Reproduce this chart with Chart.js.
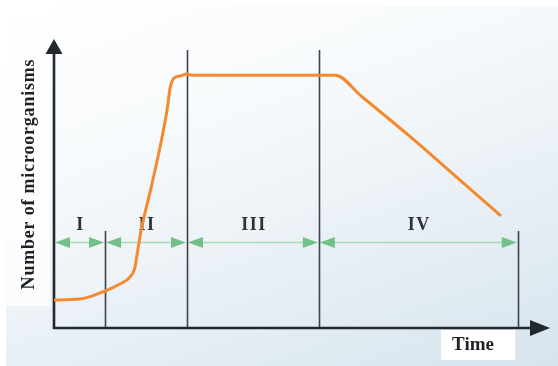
<!DOCTYPE html>
<html>
<head>
<meta charset="utf-8">
<script src="https://cdn.jsdelivr.net/npm/chart.js@4.4.1/dist/chart.umd.min.js"></script>
<style>
  html, body { margin: 0; padding: 0; background: #fff; }
  #wrap {
    position: relative; width: 558px; height: 366px;
  }
  #bg {
    position: absolute; left: 6px; top: 6px; right: 0; bottom: 0;
    background: linear-gradient(160deg, #ffffff 0%, #f6f9fb 35%, #e6eef4 70%, #d6e4ee 100%);
  }
  #labelbg {
    position: absolute; left: 6px; top: 6px; width: 44px; height: 300px;
    background: linear-gradient(180deg, #ffffff 0%, #fbfcfd 100%);
  }
  canvas { position: absolute; left: 0; top: 0; }
</style>
</head>
<body>
<div id="wrap">
  <div id="bg"></div>
  <div id="labelbg"></div>
  <canvas id="growth" width="558" height="366"></canvas>
</div>
<script>
// growth curve (time, number) in arbitrary units
const timeVals = [0, 5.2, 10.3, 13.3, 15.3, 16.3, 16.9, 17.5, 19.8, 22.8, 23.4, 24.2, 25.4, 26.8, 27.8, 56.7, 61.9, 71.4, 82.5, 90.1];
const countVals = [9.7, 10.0, 12.8, 15.2, 17.6, 20.8, 27.0, 33.2, 50.2, 75.4, 83.0, 86.5, 87.2, 87.9, 87.5, 87.5, 80.3, 66.8, 50.2, 38.8];

// phase boundaries on the time axis
const phaseEdges = [0, 10.3, 26.8, 53.4, 93.5];
const phaseNames = ['I', 'II', 'III', 'IV'];
const edgeTops = [100, 33.6, 96.2, 96.2, 33.6];
const arrowLevel = 29.8;
const labelLevel = 35.6;

const xTitle = 'Time';
const yTitle = 'Number of microorganisms';

const points = timeVals.map((t, i) => ({x: t, y: countVals[i]}));

const serif = '"Liberation Serif", "DejaVu Serif", serif';

function arrowHead(ctx, x, y, dir, len, half, color) {
  ctx.fillStyle = color;
  ctx.beginPath();
  if (dir === 'right') {
    ctx.moveTo(x, y); ctx.lineTo(x - len, y - half); ctx.lineTo(x - len, y + half);
  } else if (dir === 'left') {
    ctx.moveTo(x, y); ctx.lineTo(x + len, y - half); ctx.lineTo(x + len, y + half);
  } else {
    ctx.moveTo(x, y); ctx.lineTo(x - half, y + len); ctx.lineTo(x + half, y + len);
  }
  ctx.closePath();
  ctx.fill();
}

const diagram = {
  id: 'diagram',
  beforeDatasetsDraw(chart) {
    const {ctx, scales: {x, y}} = chart;
    ctx.save();
    const x0 = x.getPixelForValue(0), y0 = y.getPixelForValue(0);

    // phase lines
    ctx.strokeStyle = '#3d424c';
    ctx.lineWidth = 1.6;
    for (let i = 1; i < phaseEdges.length; i++) {
      const px = Math.round(x.getPixelForValue(phaseEdges[i])) + 0.5;
      ctx.beginPath();
      ctx.moveTo(px, y.getPixelForValue(edgeTops[i]));
      ctx.lineTo(px, y0);
      ctx.stroke();
    }

    // green double arrows
    const ay = Math.round(y.getPixelForValue(arrowLevel)) + 0.5;
    for (let i = 0; i < phaseNames.length; i++) {
      const a = x.getPixelForValue(phaseEdges[i]) + 1;
      const b = x.getPixelForValue(phaseEdges[i + 1]) - 1;
      ctx.strokeStyle = '#a9d9b6';
      ctx.lineWidth = 1.5;
      ctx.beginPath();
      ctx.moveTo(a + 8, ay); ctx.lineTo(b - 8, ay);
      ctx.stroke();
      arrowHead(ctx, a, ay, 'left', 15, 5.5, '#74c08a');
      arrowHead(ctx, b, ay, 'right', 15, 5.5, '#74c08a');
    }

    // phase names
    ctx.fillStyle = '#2f3238';
    ctx.font = 'bold 18px ' + serif;
    ctx.letterSpacing = '1.5px';
    ctx.textAlign = 'center';
    ctx.textBaseline = 'middle';
    for (let i = 0; i < phaseNames.length; i++) {
      const mid = (phaseEdges[i] + phaseEdges[i + 1]) / 2;
      ctx.fillText(phaseNames[i], x.getPixelForValue(mid) + 1, y.getPixelForValue(labelLevel));
    }

    // axes
    ctx.strokeStyle = '#23272e';
    ctx.lineWidth = 2.6;
    ctx.beginPath();
    ctx.moveTo(x0, y.getPixelForValue(95));
    ctx.lineTo(x0, y0);
    ctx.lineTo(x.getPixelForValue(96), y0);
    ctx.stroke();
    arrowHead(ctx, x0, y.getPixelForValue(100), 'up', 15, 8.5, '#23272e');
    arrowHead(ctx, x.getPixelForValue(100), y0, 'right', 20, 8, '#23272e');

    // Time box
    ctx.fillStyle = '#ffffff';
    ctx.fillRect(441, 330, 74, 30);
    ctx.fillStyle = '#1e2126';
    ctx.letterSpacing = '0px';
    ctx.font = 'bold 19px ' + serif;
    ctx.fillText(xTitle, 473, 345);

    // y title
    ctx.translate(29, 174);
    ctx.rotate(-Math.PI / 2);
    ctx.font = 'bold 18px ' + serif;
    ctx.letterSpacing = '0.8px';
    ctx.fillText(yTitle, 0, 0);
    ctx.restore();
  }
};

new Chart(document.getElementById('growth'), {
  type: 'line',
  data: {
    datasets: [{
      data: points,
      borderColor: '#f5892f',
      borderWidth: 3,
      pointRadius: 0,
      cubicInterpolationMode: 'monotone',
      fill: false
    }]
  },
  options: {
    responsive: false,
    animation: false,
    layout: { padding: { left: 54, right: 8, top: 39, bottom: 38 } },
    plugins: { legend: { display: false }, tooltip: { enabled: false } },
    scales: {
      x: { type: 'linear', min: 0, max: 100, display: false },
      y: { type: 'linear', min: 0, max: 100, display: false }
    }
  },
  plugins: [diagram]
});
</script>
</body>
</html>
